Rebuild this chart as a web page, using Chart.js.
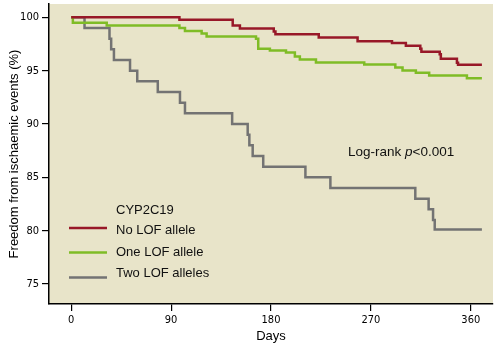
<!DOCTYPE html>
<html>
<head>
<meta charset="utf-8">
<script src="https://cdn.jsdelivr.net/npm/chart.js@4.4.1/dist/chart.umd.min.js"></script>
<style>
  html, body { margin: 0; padding: 0; background: #fff; }
  #wrap { width: 502px; height: 348px; }
</style>
</head>
<body>
<div id="wrap"><canvas id="kmChart" width="502" height="348"></canvas></div>
<script>
// Kaplan-Meier steps: day of each event and freedom from events (%) after it
const noLofDays = [0, 97.5, 145.5, 152, 182.5, 184, 223, 258, 289, 301.5, 314.5, 315.5, 332, 333, 347.5, 348.5, 370];
const noLofFree = [100, 99.77, 99.23, 98.95, 98.67, 98.42, 98.12, 97.75, 97.6, 97.33, 97.05, 96.78, 96.55, 96.12, 95.75, 95.55, 95.55];

const oneLofDays = [0, 1.5, 32, 97.5, 102.5, 117.5, 122, 166.5, 168.5, 179, 193.5, 201.5, 206, 220.5, 264, 292, 298.5, 310.5, 322.5, 356.5, 370];
const oneLofFree = [100, 99.5, 99.23, 98.99, 98.73, 98.48, 98.2, 98.0, 97.05, 96.9, 96.7, 96.33, 96.04, 95.76, 95.58, 95.3, 95.01, 94.8, 94.54, 94.3, 94.3];

const twoLofDays = [0, 12, 34.5, 36, 38.5, 53, 59.5, 78, 98, 102.5, 145, 159, 160.5, 163.5, 173, 211, 233.5, 310, 322, 326, 327.5, 370];
const twoLofFree = [100, 99, 98, 97, 96, 95, 94, 93, 92, 91, 90, 89, 88, 87, 86, 85, 84, 83, 82, 81, 80.1, 80.1];

const groupLabels = ['No LOF allele', 'One LOF allele', 'Two LOF alleles'];
const groupColors = ['#981828', '#7fbc26', '#737373'];
const xTicks = [0, 90, 180, 270, 360];
const yTicks = [75, 80, 85, 90, 95, 100];

const toPoints = (days, vals) => days.map((d, i) => ({ x: d, y: vals[i] }));

const sansFont = "'Liberation Sans', Arial, sans-serif";
const narrowFont = "'Liberation Sans Narrow', 'DejaVu Sans Condensed', sans-serif";

// beige panel behind the curves
const panelBg = {
  id: 'panelBg',
  beforeDraw(chart) {
    const { ctx, chartArea: a } = chart;
    ctx.save();
    ctx.fillStyle = '#e8e4c9';
    ctx.fillRect(a.left, a.top, a.right - a.left, a.bottom - a.top);
    ctx.restore();
  }
};

// legend block and log-rank note inside the plot
const notes = {
  id: 'notes',
  afterDatasetsDraw(chart) {
    const ctx = chart.ctx;
    ctx.save();
    ctx.fillStyle = '#111';
    ctx.textBaseline = 'middle';
    ctx.font = '13px ' + sansFont;
    ctx.fillText('CYP2C19', 116, 210);

    const rowY = [230, 252, 273];
    const lineY = [228, 252.5, 277.5];
    chart.data.datasets.forEach((ds, i) => {
      ctx.strokeStyle = ds.borderColor;
      ctx.lineWidth = 2.5;
      ctx.beginPath();
      ctx.moveTo(69, lineY[i]);
      ctx.lineTo(107, lineY[i]);
      ctx.stroke();
      ctx.fillStyle = '#111';
      ctx.fillText(ds.label, 116, rowY[i]);
    });

    let x = 348;
    const y = 152;
    ctx.font = '13.5px ' + sansFont;
    ctx.fillText('Log-rank ', x, y);
    x += ctx.measureText('Log-rank ').width;
    ctx.font = 'italic 13.5px ' + sansFont;
    ctx.fillText('p', x, y);
    x += ctx.measureText('p').width;
    ctx.font = '13.5px ' + sansFont;
    ctx.fillText('<0.001', x, y);
    ctx.restore();
  }
};

const axisGrid = {
  display: true,
  drawOnChartArea: false,
  drawTicks: true,
  tickLength: 7,
  color: '#000',
  lineWidth: 1.2
};

new Chart(document.getElementById('kmChart'), {
  type: 'line',
  data: {
    datasets: [
      { label: groupLabels[0], data: toPoints(noLofDays, noLofFree), borderColor: groupColors[0] },
      { label: groupLabels[1], data: toPoints(oneLofDays, oneLofFree), borderColor: groupColors[1] },
      { label: groupLabels[2], data: toPoints(twoLofDays, twoLofFree), borderColor: groupColors[2] }
    ].map(ds => Object.assign(ds, {
      stepped: 'before',
      borderWidth: 2.5,
      pointRadius: 0,
      fill: false
    }))
  },
  options: {
    responsive: false,
    animation: false,
    layout: { padding: { top: 4, right: 9, left: 0, bottom: 0 } },
    plugins: {
      legend: { display: false },
      tooltip: { enabled: false }
    },
    scales: {
      x: {
        type: 'linear',
        min: -20,
        max: 380,
        afterBuildTicks: s => { s.ticks = xTicks.map(v => ({ value: v })); },
        afterFit: s => { s.height = 44; s.paddingLeft = 0; s.paddingRight = 0; },
        border: { display: true, color: '#000', width: 1.5 },
        grid: axisGrid,
        ticks: { color: '#000', padding: 3, font: { family: narrowFont, size: 11 } },
        title: {
          display: true,
          text: 'Days',
          color: '#000',
          font: { family: sansFont, size: 13 },
          padding: { top: 0, bottom: 4 }
        }
      },
      y: {
        type: 'linear',
        min: 73.125,
        max: 101.25,
        afterBuildTicks: s => { s.ticks = yTicks.map(v => ({ value: v })); },
        afterFit: s => { s.width = 49; s.paddingTop = 0; s.paddingBottom = 0; },
        border: { display: true, color: '#000', width: 1.5 },
        grid: axisGrid,
        ticks: { color: '#000', padding: 3, font: { family: narrowFont, size: 11 } },
        title: {
          display: true,
          text: 'Freedom from ischaemic events (%)',
          color: '#000',
          font: { family: sansFont, size: 13 },
          padding: { top: 7, bottom: 0 }
        }
      }
    }
  },
  plugins: [panelBg, notes]
});
</script>
</body>
</html>
